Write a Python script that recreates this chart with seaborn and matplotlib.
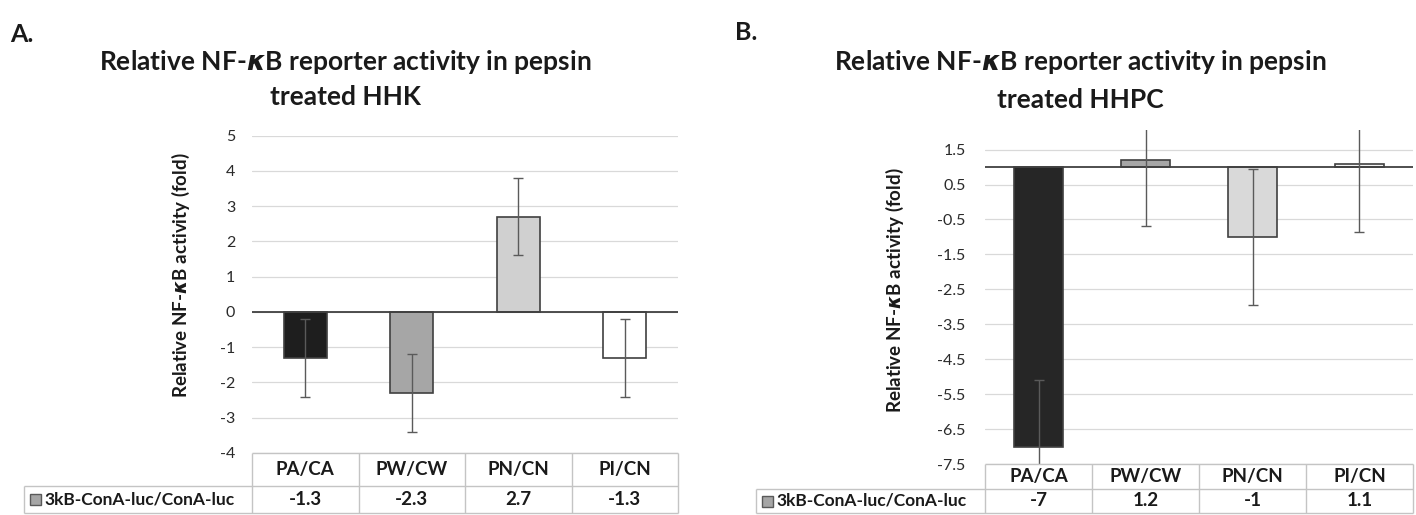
import numpy as np
import matplotlib
matplotlib.use("Agg")
import matplotlib.pyplot as plt
from matplotlib.patches import Rectangle
import seaborn as sns

# values
groups = ["PA/CA", "PW/CW", "PN/CN", "PI/CN"]
series_name = "3kB-ConA-luc/ConA-luc"
hhk_fold = [-1.3, -2.3, 2.7, -1.3]
hhk_err = [1.1, 1.1, 1.1, 1.1]
hhpc_fold = [-7, 1.2, -1, 1.1]
hhpc_err = [1.9, 1.9, 1.95, 1.95]
hhk_ticks = [-4, -3, -2, -1, 0, 1, 2, 3, 4, 5]
hhpc_ticks = [-7.5, -6.5, -5.5, -4.5, -3.5, -2.5, -1.5, -0.5, 0.5, 1.5]
hhk_colors = ["#1e1e1e", "#a6a6a6", "#d0d0d0", "#ffffff"]
hhpc_colors = ["#262626", "#a6a6a6", "#d9d9d9", "#f4f4f4"]

sns.set_theme(style="white")
plt.rcParams["font.family"] = ["Lato", "DejaVu Sans"]
plt.rcParams["axes.unicode_minus"] = False
plt.rcParams["mathtext.fontset"] = "custom"
plt.rcParams["mathtext.it"] = "DejaVu Sans:italic:bold"

W, H = 1416, 515
fig = plt.figure(figsize=(W / 100, H / 100), dpi=100)


def px_axes(x0, y0, x1, y1):
    return fig.add_axes([x0 / W, 1 - y1 / H, (x1 - x0) / W, (y1 - y0) / H])


# overlay in pixel coords (y down) for titles and the data table
ov = fig.add_axes([0, 0, 1, 1], zorder=5)
ov.set_xlim(0, W)
ov.set_ylim(H, 0)
ov.axis("off")

edge = "#404040"
err_col = "#5a5a5a"
grid_col = "#d9d9d9"
line_col = "#c4c4c4"
txt = "#1a1a1a"


def style_axis(ax, ticks, ylim, pad):
    ax.set_xlim(-0.5, len(groups) - 0.5)
    ax.set_ylim(*ylim)
    ax.set_yticks(ticks)
    ax.yaxis.grid(True, color=grid_col, lw=0.9)
    ax.set_axisbelow(True)
    sns.despine(ax=ax, left=True, bottom=True)
    ax.tick_params(axis="y", length=0, pad=pad, labelsize=11.5, labelcolor="#2a2a2a")
    ax.tick_params(axis="x", length=0, labelbottom=False)
    ax.set_xlabel("")
    ax.set_ylabel("")
    ax.patch.set_alpha(0)


def draw_table(ax, vals, y_head, y_row, y_bot, x_leg):
    xs = [ax.transData.transform((i - 0.5, 0))[0] for i in range(len(groups) + 1)]
    ov.hlines(y_head, xs[0], xs[-1], color=line_col, lw=1)
    ov.hlines([y_row, y_bot], x_leg, xs[-1], color=line_col, lw=1)
    ov.vlines(xs, y_head, y_bot, color=line_col, lw=1)
    ov.vlines(x_leg, y_row, y_bot, color=line_col, lw=1)
    yh = (y_head + y_row) / 2
    yv = (y_row + y_bot) / 2
    for i, (g, v) in enumerate(zip(groups, vals)):
        xc = (xs[i] + xs[i + 1]) / 2
        ov.text(xc, yh, g, ha="center", va="center", fontsize=13.5, fontweight="bold", color=txt)
        ov.text(xc, yv, "{:g}".format(v), ha="center", va="center", fontsize=13.5,
                fontweight="bold", color=txt)
    ov.add_patch(Rectangle((x_leg + 6, yv - 5.5), 11, 11, fc="#a6a6a6", ec="#595959", lw=1))
    ov.text(x_leg + 20, yv, series_name, ha="left", va="center", fontsize=12.5,
            fontweight="bold", color=txt)


# ---- panel A: HHK ----
axA = px_axes(252, 135.5, 678, 453)
sns.barplot(x=groups, y=hhk_fold, hue=groups, palette=hhk_colors, legend=False,
            width=0.4, edgecolor=edge, linewidth=1.2, errorbar=None, ax=axA)
axA.errorbar(range(len(groups)), hhk_fold, yerr=hhk_err, fmt="none", ecolor=err_col,
             elinewidth=1, capsize=3.5, capthick=1, zorder=4)
axA.axhline(0, color=edge, lw=1.3, zorder=3)
style_axis(axA, hhk_ticks, (-4, 5), 12)
draw_table(axA, hhk_fold, 453, 486, 513, 24)

# ---- panel B: HHPC (bars hang from the axis crossing at 1) ----
base = 1
axB = px_axes(985, 130, 1413, 464)
axB.bar(range(len(groups)), np.array(hhpc_fold) - base, bottom=base, width=0.46,
        color=hhpc_colors, edgecolor=edge, linewidth=1.2, zorder=2)
axB.errorbar(range(len(groups)), hhpc_fold, yerr=hhpc_err, fmt="none", ecolor=err_col,
             elinewidth=1, capsize=3.5, capthick=1, zorder=4)
axB.axhline(base, color=edge, lw=1.3, zorder=3)
style_axis(axB, hhpc_ticks, (-7.5, 2.06), 14)
draw_table(axB, hhpc_fold, 464, 489, 513, 756)

# ---- titles and labels ----
ov.text(10, 35, "A.", fontsize=18, fontweight="bold", va="center", ha="left", color=txt)
ov.text(735, 32, "B.", fontsize=18, fontweight="bold", va="center", ha="left", color=txt)
ov.text(345, 62, "Relative NF-$\\mathit{\\kappa}$B reporter activity in pepsin",
        fontsize=19, fontweight="bold", ha="center", va="center", color=txt)
ov.text(345, 97, "treated HHK", fontsize=19, fontweight="bold", ha="center", va="center",
        color=txt)
ov.text(1080, 62, "Relative NF-$\\mathit{\\kappa}$B reporter activity in pepsin",
        fontsize=19, fontweight="bold", ha="center", va="center", color=txt)
ov.text(1080, 100, "treated HHPC", fontsize=19, fontweight="bold", ha="center", va="center",
        color=txt)
ylab = "Relative NF-$\\mathit{\\kappa}$B activity (fold)"
ov.text(181, 275, ylab, rotation=90, fontsize=13.5, fontweight="bold", ha="center",
        va="center", color=txt)
ov.text(895, 290, ylab, rotation=90, fontsize=13.5, fontweight="bold", ha="center",
        va="center", color=txt)

fig.savefig("out.png", dpi=100)
